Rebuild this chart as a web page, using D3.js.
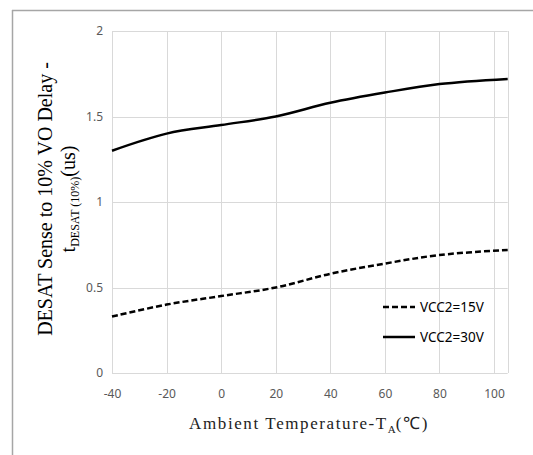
<!DOCTYPE html>
<html><head><meta charset="utf-8">
<script src="https://cdn.jsdelivr.net/npm/d3@7"></script>
<style>body{margin:0;background:#fff;}</style>
</head><body>
<svg id="c" width="533" height="455"></svg>
<script>
const temps = [-40, -20, 0, 20, 40, 60, 80, 105];
const vcc15 = [0.33, 0.40, 0.45, 0.50, 0.58, 0.64, 0.69, 0.72];
const vcc30 = [1.30, 1.40, 1.45, 1.50, 1.58, 1.64, 1.69, 1.72];
const xTicks = [-40, -20, 0, 20, 40, 60, 80, 100];
const yTicks = [0, 0.5, 1, 1.5, 2];
const seriesNames = ["VCC2=15V", "VCC2=30V"];

const svg = d3.select("#c");
const L = 112, R = 507.7, T = 31, B = 373;
const x = d3.scaleLinear().domain([-40, 105]).range([L, R]);
const y = d3.scaleLinear().domain([0, 2]).range([B, T]);

// outer frame (left and top)
svg.append("line").attr("x1",12.5).attr("x2",12.5).attr("y1",10).attr("y2",455).attr("stroke","#a6a6a6").attr("stroke-width",1.5);
svg.append("line").attr("x1",12).attr("x2",533).attr("y1",10.5).attr("y2",10.5).attr("stroke","#a6a6a6").attr("stroke-width",1.5);

const grid = svg.append("g").attr("stroke","#d9d9d9").attr("stroke-width",1);
xTicks.concat([105]).forEach(t => grid.append("line").attr("x1",Math.round(x(t))+0.5).attr("x2",Math.round(x(t))+0.5).attr("y1",T).attr("y2",B));
yTicks.forEach(t => grid.append("line").attr("x1",L).attr("x2",R).attr("y1",Math.round(y(t))+0.5).attr("y2",Math.round(y(t))+0.5));

// axes via d3
const xAxis = svg.append("g").attr("transform",`translate(0,${B})`)
  .call(d3.axisBottom(x).tickValues(xTicks).tickSize(0).tickPadding(16).tickFormat(d => String(d)));
const yAxis = svg.append("g").attr("transform",`translate(${L},0)`)
  .call(d3.axisLeft(y).tickValues(yTicks).tickSize(0).tickPadding(9).tickFormat(d => String(d)));
[xAxis, yAxis].forEach(a => {
  a.select(".domain").remove();
  a.selectAll("text").attr("fill","#595959").style("font-family","'Noto Sans', 'Open Sans', sans-serif").style("font-size","12px");
});

const line = d3.line().x(d => x(d[0])).y(d => y(d[1])).curve(d3.curveCatmullRom.alpha(0.5));
svg.append("path").datum(temps.map((t,i)=>[t,vcc15[i]])).attr("d",line)
  .attr("fill","none").attr("stroke","#000").attr("stroke-width",2.5).attr("stroke-dasharray","6,3");
svg.append("path").datum(temps.map((t,i)=>[t,vcc30[i]])).attr("d",line)
  .attr("fill","none").attr("stroke","#000").attr("stroke-width",2.5);

// legend
const lg = svg.append("g");
seriesNames.forEach((n,i) => {
  const yy = 307 + i*30;
  lg.append("line").attr("x1",383).attr("x2",415).attr("y1",yy).attr("y2",yy)
    .attr("stroke","#000").attr("stroke-width",2.5).attr("stroke-dasharray", i===0 ? "6,3" : null);
  lg.append("text").attr("x",420).attr("y",yy).attr("dy","0.35em").text(n)
    .attr("fill","#000").style("font-family","'Noto Sans', 'Open Sans', sans-serif").style("font-size","13.5px");
});

// x title
const xt = svg.append("text").attr("x",309).attr("y",429).attr("text-anchor","middle")
  .style("font-family","'Liberation Serif', serif").style("font-size","17px").style("letter-spacing","1.6px").attr("fill","#222");
xt.append("tspan").text("Ambient Temperature-T");
xt.append("tspan").attr("dy",4).style("font-size","11px").style("letter-spacing","0px").text("A");
xt.append("tspan").attr("dy",-4).text("(℃)");

// y title
const yt = svg.append("g").attr("transform","translate(52,199) rotate(-90)");
yt.append("text").attr("text-anchor","middle").attr("y",0)
  .style("font-family","'Liberation Serif', serif").style("font-size","20px").attr("fill","#000")
  .text("DESAT Sense to 10% VO Delay -");
const t2 = yt.append("text").attr("text-anchor","middle").attr("y",23)
  .style("font-family","'Liberation Serif', serif").style("font-size","20px").attr("fill","#000");
t2.append("tspan").text("t");
t2.append("tspan").attr("dy",4).style("font-size","12px").text("DESAT (10%)");
t2.append("tspan").attr("dy",-4).text("(us)");
</script>
</body></html>
